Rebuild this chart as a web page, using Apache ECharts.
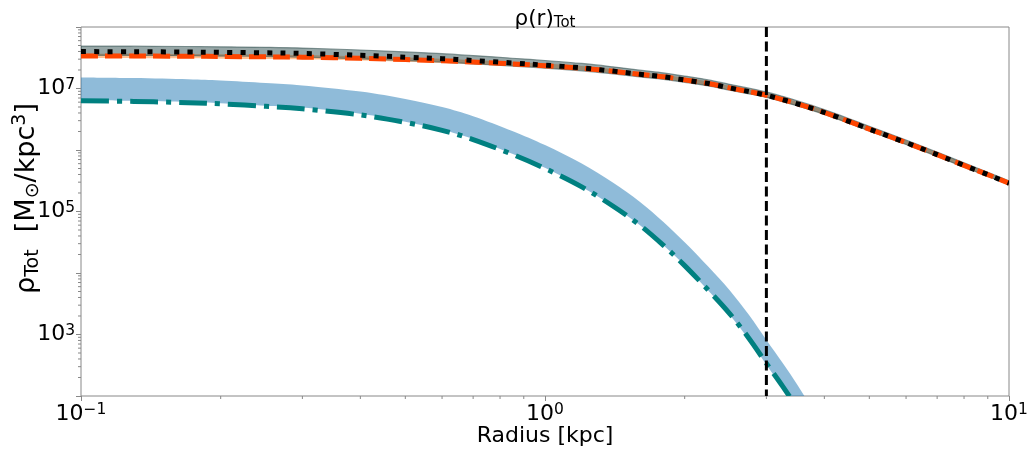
<!DOCTYPE html>
<html><head><meta charset="utf-8">
<script src="https://cdn.jsdelivr.net/npm/echarts@6/dist/echarts.min.js"></script>
<style>html,body{margin:0;padding:0;background:#fff}#c{width:1035px;height:450px}</style>
</head><body><div id="c"></div>
<script>
// Radius grid (kpc)
const radius = [0.1, 0.13, 0.17, 0.2, 0.25, 0.3, 0.4, 0.5, 0.6, 0.7, 0.85, 1.0, 1.2, 1.4, 1.6, 1.8, 2.0, 2.25, 2.5, 2.75, 3.0, 3.25, 3.5, 3.75, 4.0, 4.5, 5.0, 6.0, 7.0, 8.0, 9.0, 10.0];
// log10 densities
const logTotal = [7.60, 7.598, 7.593, 7.588, 7.58, 7.57, 7.54, 7.51, 7.485, 7.455, 7.415, 7.38, 7.335, 7.283, 7.232, 7.19, 7.14, 7.08, 7.01, 6.95, 6.89, 6.82, 6.75, 6.68, 6.61, 6.47, 6.34, 6.12, 5.925, 5.75, 5.60, 5.46];
const logTotalUpper = [7.69, 7.688, 7.683, 7.678, 7.67, 7.658, 7.626, 7.594, 7.567, 7.535, 7.492, 7.455, 7.407, 7.352, 7.298, 7.254, 7.202, 7.14, 7.068, 7.006, 6.944, 6.872, 6.80, 6.729, 6.658, 6.516, 6.385, 6.163, 5.966, 5.79, 5.639, 5.498];
const logTotalLower = [7.54, 7.538, 7.533, 7.528, 7.52, 7.51, 7.482, 7.454, 7.43, 7.402, 7.364, 7.331, 7.288, 7.238, 7.189, 7.149, 7.101, 7.042, 6.973, 6.914, 6.855, 6.786, 6.717, 6.648, 6.579, 6.44, 6.31, 6.09, 5.896, 5.722, 5.573, 5.434];
const logDM = [7.53, 7.528, 7.525, 7.52, 7.515, 7.51, 7.49, 7.47, 7.45, 7.43, 7.40, 7.37, 7.33, 7.28, 7.23, 7.19, 7.14, 7.08, 7.01, 6.95, 6.89, 6.82, 6.75, 6.68, 6.61, 6.47, 6.34, 6.12, 5.925, 5.75, 5.60, 5.46];
const logDMUpper = [7.565, 7.563, 7.56, 7.555, 7.55, 7.545, 7.525, 7.505, 7.485, 7.465, 7.435, 7.405, 7.365, 7.315, 7.265, 7.225, 7.175, 7.115, 7.045, 6.985, 6.925, 6.855, 6.785, 6.715, 6.645, 6.505, 6.375, 6.155, 5.96, 5.785, 5.635, 5.495];
const logDMLower = [7.495, 7.493, 7.49, 7.485, 7.48, 7.475, 7.455, 7.435, 7.415, 7.395, 7.365, 7.335, 7.295, 7.245, 7.195, 7.155, 7.105, 7.045, 6.975, 6.915, 6.855, 6.785, 6.715, 6.645, 6.575, 6.435, 6.305, 6.085, 5.89, 5.715, 5.565, 5.425];
const logBaryon = [6.80, 6.79, 6.77, 6.75, 6.71, 6.67, 6.57, 6.45, 6.32, 6.17, 5.93, 5.70, 5.40, 5.09, 4.78, 4.45, 4.12, 3.72, 3.34, 2.94, 2.53, 2.16, 1.80, 1.43, 1.06];
const logBaryonUpper = [7.18, 7.17, 7.15, 7.13, 7.09, 7.05, 6.95, 6.83, 6.70, 6.55, 6.31, 6.08, 5.78, 5.47, 5.16, 4.83, 4.50, 4.10, 3.72, 3.32, 2.91, 2.54, 2.18, 1.81, 1.44];
const logBaryonLower = [6.81, 6.80, 6.78, 6.76, 6.72, 6.69, 6.59, 6.46, 6.33, 6.18, 5.94, 5.71, 5.40, 5.09, 4.78, 4.45, 4.12, 3.71, 3.32, 2.92, 2.51, 2.13, 1.77, 1.40, 1.03];
const rCut = 3.0; // vertical dashed line (kpc)
const xTickExps = [-1, 0, 1];
const yLabelExps = [3, 5, 7];
const xMinorTicks = [0.2,0.3,0.4,0.5,0.6,0.7,0.8,0.9,2,3,4,5,6,7,8,9];
const yMinorMult = [2,3,4,5,6,7,8,9];
const yDecades = [2,3,4,5,6,7];
const Y_MIN = 100, Y_MAX = 1e8, X_MIN = 0.1, X_MAX = 10;

const FONT = 'DejaVu Sans';

function f(v) { return v.toFixed(2); }
function crSegments(P) {
  let d = '';
  const n = P.length;
  for (let i = 0; i < n - 1; i++) {
    const p0 = P[Math.max(i - 1, 0)], p1 = P[i], p2 = P[i + 1], p3 = P[Math.min(i + 2, n - 1)];
    const c1x = p1[0] + (p2[0] - p0[0]) / 6, c1y = p1[1] + (p2[1] - p0[1]) / 6;
    const c2x = p2[0] - (p3[0] - p1[0]) / 6, c2y = p2[1] - (p3[1] - p1[1]) / 6;
    d += ' C' + f(c1x) + ' ' + f(c1y) + ' ' + f(c2x) + ' ' + f(c2y) + ' ' + f(p2[0]) + ' ' + f(p2[1]);
  }
  return d;
}
function coords(api, logs) {
  return logs.map(function (v, i) { return api.coord([radius[i], Math.pow(10, v)]); });
}

function band(upper, lower, fill, stroke, z) {
  return {
    type: 'custom', coordinateSystem: 'cartesian2d', z: z, silent: true, clip: true,
    data: [[radius[0], Math.pow(10, upper[0])]],
    renderItem: function (params, api) {
      const U = coords(api, upper), L = coords(api, lower).reverse();
      const d = 'M' + f(U[0][0]) + ' ' + f(U[0][1]) + crSegments(U) +
        ' L' + f(L[0][0]) + ' ' + f(L[0][1]) + crSegments(L) + ' Z';
      return { type: 'path', shape: { pathData: d }, style: { fill: fill, stroke: stroke || null, lineWidth: stroke ? 1.2 : 0 } };
    }
  };
}
function curve(logs, color, width, dash, z) {
  return {
    type: 'custom', coordinateSystem: 'cartesian2d', z: z, silent: true, clip: true,
    data: [[radius[0], Math.pow(10, logs[0])]],
    renderItem: function (params, api) {
      const P = coords(api, logs);
      const d = 'M' + f(P[0][0]) + ' ' + f(P[0][1]) + crSegments(P);
      return { type: 'path', shape: { pathData: d }, style: { fill: null, stroke: color, lineWidth: width, lineDash: dash, lineCap: 'butt' } };
    }
  };
}

const supRich = {
  b: { fontFamily: FONT, fontSize: 22, lineHeight: 24, color: '#000' },
  s: { fontFamily: FONT, fontSize: 15.5, lineHeight: 15, verticalAlign: 'top', color: '#000' }
};

const chart = echarts.init(document.getElementById('c'), null, { renderer: 'canvas' });
const option = {
  animation: false,
  backgroundColor: '#fff',
  title: {
    text: 'ρ(r){sub|Tot}', left: 540, top: 2, textAlign: 'center',
    textStyle: {
      fontFamily: FONT, fontSize: 21.5, fontWeight: 'normal', color: '#000', lineHeight: 24,
      rich: { sub: { fontFamily: FONT, fontSize: 15, lineHeight: 14, verticalAlign: 'bottom', color: '#000' } }
    }
  },
  grid: { left: 81, right: 26, top: 27, bottom: 54, show: true, borderColor: '#888', borderWidth: 1, containLabel: false, outerBoundsMode: 'none' },
  xAxis: {
    type: 'log', logBase: 10, min: X_MIN, max: X_MAX,
    axisLine: { show: false },
    axisTick: { show: true, length: 5, lineStyle: { color: '#888' } },
    minorTick: { show: false }, splitLine: { show: false },
    axisLabel: {
      show: true, margin: 6, showMinLabel: true, showMaxLabel: true, hideOverlap: false,
      formatter: function (v) {
        const e = Math.round(Math.log10(v));
        if (xTickExps.indexOf(e) < 0) return '';
        return '{b|10}{s|' + (e < 0 ? '−' + (-e) : e) + '}';
      },
      rich: supRich
    },
    name: 'Radius [kpc]', nameLocation: 'middle', nameGap: 29, nameMoveOverlap: false,
    nameTextStyle: { fontFamily: FONT, fontSize: 22, color: '#000' }
  },
  yAxis: {
    type: 'log', logBase: 10, min: Y_MIN, max: Y_MAX,
    axisLine: { show: false },
    axisTick: { show: true, length: 5, lineStyle: { color: '#888' } },
    minorTick: { show: false }, splitLine: { show: false },
    axisLabel: {
      show: true, margin: 6, showMinLabel: true, showMaxLabel: true, hideOverlap: false,
      formatter: function (v) {
        const e = Math.round(Math.log10(v));
        if (yLabelExps.indexOf(e) < 0) return '';
        return '{b|10}{s|' + e + '}';
      },
      rich: supRich
    },
    name: 'ρ{sub|Tot}  [M{sub|⊙}/kpc{sup|3}]', nameLocation: 'middle', nameGap: 38, nameRotate: 90, nameMoveOverlap: false,
    nameTextStyle: {
      fontFamily: FONT, fontSize: 27, color: '#000', lineHeight: 32, padding: [0, 0, 0, 26],
      rich: {
        sub: { fontFamily: FONT, fontSize: 19, lineHeight: 17, verticalAlign: 'bottom', color: '#000' },
        sup: { fontFamily: FONT, fontSize: 19, lineHeight: 17, verticalAlign: 'top', color: '#000' }
      }
    }
  },
  series: [
    band(logBaryonUpper, logBaryonLower, 'rgba(31,119,180,0.5)', null, 1),
    curve(logBaryon, '#008080', 5, [28, 8, 5, 8], 2),
    band(logDMUpper, logDMLower, 'rgba(255,120,20,0.45)', null, 3),
    band(logTotalUpper, logTotalLower, 'rgba(47,79,79,0.5)', 'rgba(47,79,79,0.55)', 4),
    curve(logDM, '#ff4500', 5, [17, 7], 5),
    curve(logTotal, '#000', 5, [5, 8.3], 6),
    {
      type: 'custom', coordinateSystem: 'cartesian2d', z: 7, silent: true, clip: true,
      data: [[rCut, Y_MAX]],
      renderItem: function (params, api) {
        const a = api.coord([rCut, Y_MAX]), b = api.coord([rCut, Y_MIN]);
        return { type: 'line', shape: { x1: a[0], y1: a[1], x2: b[0], y2: b[1] }, style: { stroke: '#000', lineWidth: 3, lineDash: [10, 4.5], lineCap: 'butt' } };
      }
    },
    {
      type: 'custom', coordinateSystem: 'cartesian2d', z: 10, silent: true, clip: false,
      data: [[1, 1000]],
      renderItem: function (params, api) {
        const ch = [];
        xMinorTicks.forEach(function (v) {
          const p = api.coord([v, Y_MIN]);
          ch.push({ type: 'line', shape: { x1: p[0], y1: p[1], x2: p[0], y2: p[1] + 3 }, style: { stroke: '#888', lineWidth: 1 } });
        });
        yDecades.forEach(function (d) {
          yMinorMult.forEach(function (m) {
            const p = api.coord([X_MIN, m * Math.pow(10, d)]);
            ch.push({ type: 'line', shape: { x1: p[0], y1: p[1], x2: p[0] - 3, y2: p[1] }, style: { stroke: '#888', lineWidth: 1 } });
          });
        });
        return { type: 'group', children: ch };
      }
    }
  ]
};
chart.setOption(option);
</script>
</body></html>
